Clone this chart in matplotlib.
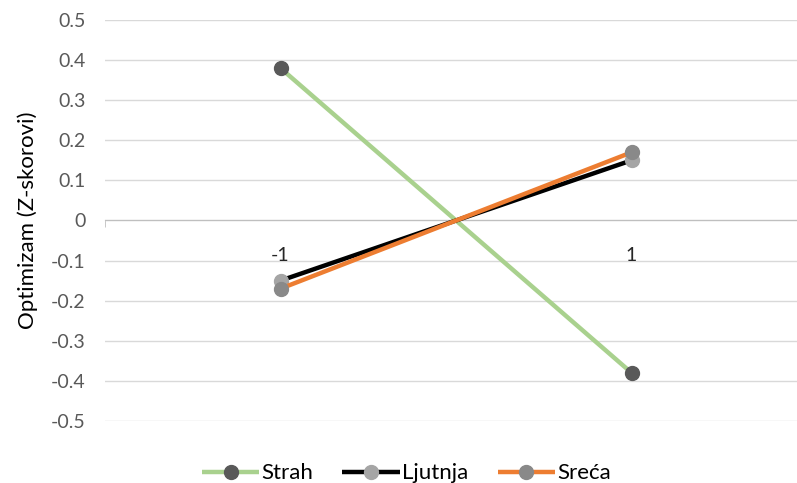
import numpy as np
import matplotlib.pyplot as plt

plt.rcParams['font.family'] = ['Lato', 'DejaVu Sans']

# data
categories = ["-1", "1"]
series_names = ["Strah", "Ljutnja", "Sreća"]
strah = [0.38, -0.38]
ljutnja = [-0.15, 0.15]
sreca = [-0.17, 0.17]
y_ticks = [0.5, 0.4, 0.3, 0.2, 0.1, 0, -0.1, -0.2, -0.3, -0.4, -0.5]

line_colors = ["#A9D18E", "#000000", "#ED7D31"]
marker_colors = ["#595959", "#A5A5A5", "#898989"]

fig = plt.figure(figsize=(7.97, 4.83), dpi=100)
ax = fig.add_axes([0.1317, 0.1284, 0.881, 0.8302])

x = np.arange(len(categories))
for vals, name, lc, mc in zip([strah, ljutnja, sreca], series_names,
                              line_colors, marker_colors):
    ax.plot(x, vals, color=lc, lw=3.2, marker="o", markersize=10,
            markerfacecolor=mc, markeredgecolor=mc, label=name,
            solid_capstyle="butt", zorder=3)

ax.set_xlim(-0.5, 1.5)
ax.set_ylim(-0.5, 0.5)
ax.set_yticks(y_ticks)
ax.set_yticklabels([("%g" % t) if t != 0 else "0" for t in y_ticks])
ax.yaxis.grid(True, color="#D9D9D9", lw=1)
ax.set_axisbelow(True)

for s in ["top", "right", "left"]:
    ax.spines[s].set_visible(False)
ax.spines["bottom"].set_position(("data", 0))
ax.spines["bottom"].set_color("#BFBFBF")
ax.spines["bottom"].set_zorder(2)

# category labels sit just under the zero line
ax.set_xticks([])
ax.set_xticks([-0.5], minor=True)
ax.tick_params(axis="x", which="minor", length=5, color="#BFBFBF",
               labelbottom=False)
for xi, lab in zip(x, categories):
    ax.annotate(lab, xy=(xi, 0), xytext=(0, -25), textcoords="offset points",
                ha="center", va="center", fontsize=14, color="#262626",
                zorder=4)

ax.tick_params(axis="y", length=0, pad=14, labelsize=14,
               labelcolor="#595959")

ax.set_ylabel("Optimizam (Z-skorovi)", fontsize=16, color="#000000",
              labelpad=9)

fig.legend(loc="center", bbox_to_anchor=(0.51, 0.02), ncol=3,
           frameon=False, fontsize=16, handlelength=2.6,
           handletextpad=0.1, columnspacing=1.3)

fig.savefig("out.png", dpi=100)
